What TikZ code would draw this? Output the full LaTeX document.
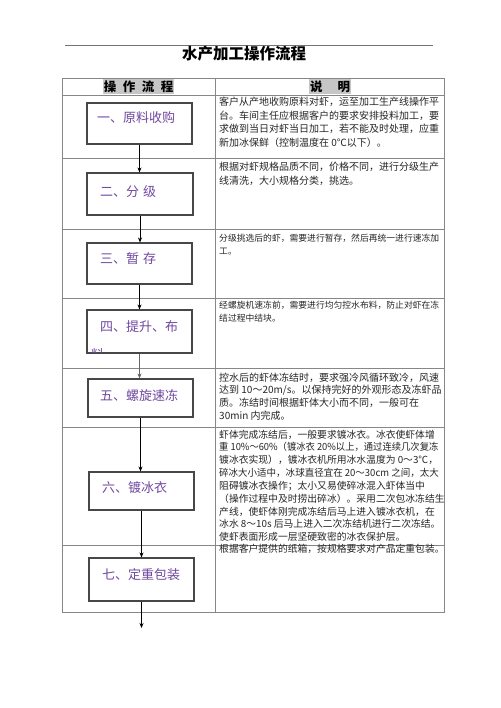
\documentclass[tikz,border=0pt]{standalone}
\usepackage{fontspec}
\setmainfont{Noto Sans CJK SC}
\usetikzlibrary{arrows.meta}
\definecolor{lbl}{RGB}{112,72,160}
\definecolor{gridc}{RGB}{135,135,135}
\definecolor{hdr}{RGB}{198,198,198}
\newcommand\desctext[5]{%
  \foreach \t [count=\i] in {#5} {%
    \node[dline,font=\fontsize{#4}{#4}\selectfont] (#1-\i) at (219,{#2+(\i-1)*#3}) {\t};
  }%
}
\begin{document}
\begin{tikzpicture}[x=1pt,y=-1pt,
  stepbox/.style={draw=black!72,line width=1.1pt},
  lab/.style={anchor=west,inner sep=0pt,text=lbl,font=\fontsize{13}{15}\selectfont},
  arr/.style={-{Stealth[length=5pt,width=4pt]},line width=0.6pt},
  tline/.style={draw=gridc,line width=0.7pt},
  dline/.style={anchor=base west,inner sep=0pt,text=black!85}
]
\path[use as bounding box,fill=white] (0,0) rectangle (500,708);
% top rule and title
\draw[draw=black!55,line width=0.5pt] (65,45) -- (433,45);
\node[font=\fontsize{15.5}{18}\selectfont\bfseries] (title) at (244,54) {水产加工操作流程};
% header shading
\fill[hdr] (103,78) rectangle (174,94.5);
\fill[hdr] (309,78) rectangle (351,94.5);
\node[font=\fontsize{12.5}{14}\selectfont\bfseries,inner sep=0pt] (h1) at (138.5,86.5) {操\hspace{6.5pt}作\hspace{6.5pt}流\hspace{6.5pt}程};
\node[font=\fontsize{12.5}{14}\selectfont\bfseries,inner sep=0pt] (h2) at (330,86.5) {说\hspace{15pt}明};
% table
\draw[tline] (62,78) rectangle (444,612);
\draw[tline] (215,78) -- (215,612);
\foreach \yy in {95,158,229,298,368,427,545} {\draw[tline] (62,\yy) -- (444,\yy);}
% boxes
\node[stepbox,minimum width=105pt,minimum height=41pt,inner sep=0pt] (b1) at (139.5,123.5) {};
\node[stepbox,minimum width=106pt,minimum height=42pt,inner sep=0pt] (b2) at (140,194) {};
\node[stepbox,minimum width=105pt,minimum height=41pt,inner sep=0pt] (b3) at (139.5,263.5) {};
\node[stepbox,minimum width=105pt,minimum height=43pt,inner sep=0pt] (b4) at (139.5,331.5) {};
\node[stepbox,minimum width=105pt,minimum height=38pt,inner sep=0pt] (b5) at (140.5,398) {};
\node[stepbox,minimum width=105pt,minimum height=38pt,inner sep=0pt] (b6) at (141.5,491) {};
\node[stepbox,minimum width=105pt,minimum height=43pt,inner sep=0pt] (b7) at (141.5,579.5) {};
% labels
\node[lab] (l1) at (97,118) {一、原料收购};
\node[lab] (l2) at (100,192) {二、分\hspace{4pt}级};
\node[lab] (l3) at (100,259) {三、暂\hspace{4pt}存};
\node[lab] (l4) at (100,327) {四、提升、布};
\begin{scope}
\clip (88,311) rectangle (191,352.3);
\node[lab,anchor=base west] (l4b) at (91,359) {料};
\end{scope}
\node[lab] (l5) at (100,396) {五、螺旋速冻};
\node[lab] (l6) at (102,488) {六、镀冰衣};
\node[lab] (l7) at (102,575) {七、定重包装};
% arrows
\coordinate (endp) at (141.5,628);
\draw[arr] (b1.south) -- (b1.south |- b2.north);
\draw[arr] (b2.south) -- (b2.south |- b3.north);
\draw[arr] (b3.south) -- (b3.south |- b4.north);
\draw[arr,draw=black!60] (b4.south) -- (b4.south |- b5.north);
\draw[arr] (b5.south) -- (b5.south |- b6.north);
\draw[arr] (b6.south) -- (b6.south |- b7.north);
\draw[arr] (b7.south) -- (b7.south |- endp);
% descriptions
\desctext{d1}{106}{13.5}{10}{{客户从产地收购原料对虾，运至加工生产线操作平},{台。车间主任应根据客户的要求安排投料加工，要},{求做到当日对虾当日加工，若不能及时处理，应重},{新加冰保鲜（控制温度在 0℃以下）。}}
\desctext{d2}{171}{13.3}{10}{{根据对虾规格品质不同，价格不同，进行分级生产},{线清洗，大小规格分类，挑选。}}
\desctext{d3}{241.5}{12.8}{8.8}{{分级挑选后的虾，需要进行暂存，然后再统一进行速冻加},{工。}}
\desctext{d4}{308.5}{12.8}{8.8}{{经螺旋机速冻前，需要进行均匀控水布料，防止对虾在冻},{结过程中结块。}}
\desctext{d5}{381}{12.7}{10}{{控水后的虾体冻结时，要求强冷风循环致冷，风速},{达到 10～20m/s。以保持完好的外观形态及冻虾品},{质。冻结时间根据虾体大小而不同，一般可在},{30min 内完成。}}
\desctext{d6}{438}{12.85}{9.8}{{虾体完成冻结后，一般要求镀冰衣。冰衣使虾体增},{\scalebox{0.95}[1]{重 10\%～60\%（镀冰衣 20\%以上，通过连续几次复冻}},{镀冰衣实现），镀冰衣机所用冰水温度为 0～3℃，},{\scalebox{0.97}[1]{碎冰大小适中，冰球直径宜在 20～30cm 之间，太大}},{阻碍镀冰衣操作；太小又易使碎冰混入虾体当中},{（操作过程中及时捞出碎冰）。采用二次包冰冻结生},{产线，使虾体刚完成冻结后马上进入镀冰衣机，在},{冰水 8～10s 后马上进入二次冻结机进行二次冻结。},{使虾表面形成一层坚硬致密的冰衣保护层。}}
\desctext{d7}{552}{13}{9.8}{{根据客户提供的纸箱，按规格要求对产品定重包装。}}
\end{tikzpicture}
\end{document}
